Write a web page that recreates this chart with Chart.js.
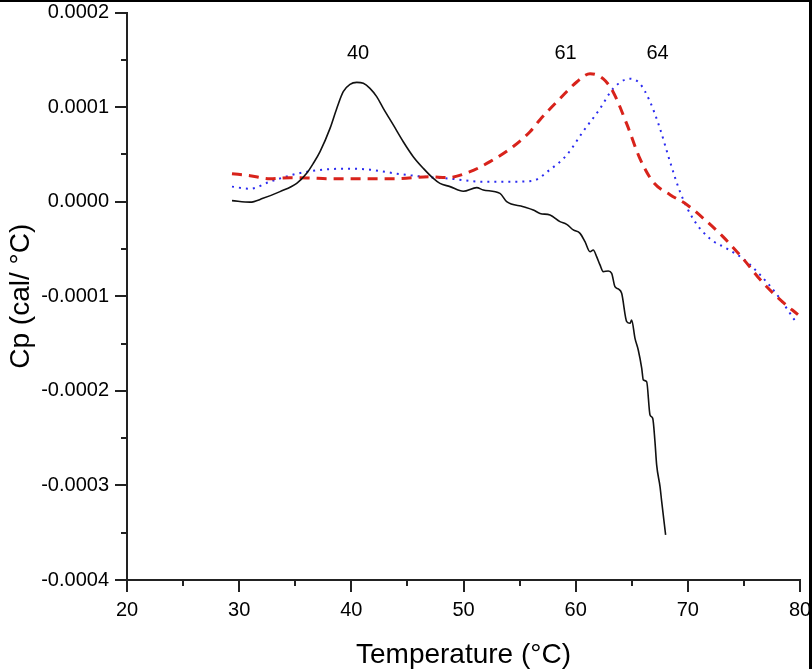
<!DOCTYPE html>
<html><head><meta charset="utf-8">
<script src="https://cdn.jsdelivr.net/npm/chart.js@4/dist/chart.umd.min.js"></script>
<style>
html,body{margin:0;padding:0;background:#fff;}
#wrap{position:absolute;left:0;top:0;width:812px;height:669px;box-sizing:border-box;border-top:2px solid #000;border-right:3px solid #000;background:#fff;}
canvas{display:block;}
</style></head><body>
<div id="wrap"><canvas id="c" width="809" height="667"></canvas></div>
<script>
// ---- data (Temperature in °C, Cp in cal/°C) ----
const blackT = [29.36,30.97,32.12,33.64,35.13,36.02,36.61,37.21,38.10,38.70,39.28,39.88,40.48,41.07,41.66,42.26,42.85,43.74,44.63,45.52,46.42,47.31,47.90,48.80,49.98,51.18,51.76,53.25,53.85,55.33,56.22,56.82,57.71,58.60,59.20,59.79,60.39,60.83,61.28,61.57,61.87,62.17,62.46,62.91,63.21,63.50,63.80,64.10,64.55,64.84,64.99,65.29,65.58,65.89,66.03,66.33,66.63,66.87,67.07,67.22,67.52,67.67,68.02];
const blackCp = [0.011e-4,-0.005e-4,0.035e-4,0.106e-4,0.193e-4,0.300e-4,0.405e-4,0.530e-4,0.775e-4,0.986e-4,1.163e-4,1.240e-4,1.261e-4,1.251e-4,1.198e-4,1.110e-4,0.986e-4,0.811e-4,0.634e-4,0.476e-4,0.352e-4,0.246e-4,0.193e-4,0.159e-4,0.110e-4,0.148e-4,0.124e-4,0.088e-4,0.000e-4,-0.053e-4,-0.088e-4,-0.124e-4,-0.141e-4,-0.211e-4,-0.240e-4,-0.299e-4,-0.335e-4,-0.423e-4,-0.529e-4,-0.511e-4,-0.581e-4,-0.669e-4,-0.740e-4,-0.733e-4,-0.758e-4,-0.899e-4,-0.923e-4,-0.969e-4,-1.268e-4,-1.286e-4,-1.251e-4,-1.445e-4,-1.568e-4,-1.762e-4,-1.885e-4,-1.903e-4,-2.255e-4,-2.291e-4,-2.537e-4,-2.783e-4,-3.013e-4,-3.171e-4,-3.523e-4];

const redT = [29.36,30.97,32.75,34.53,36.30,38.10,41.04,44.07,47.01,48.53,50.58,52.36,54.41,55.93,56.82,58.60,60.12,61.28,62.44,63.33,64.58,65.73,66.89,68.41,69.92,71.71,73.13,74.92,76.61,78.22,79.82];
const redCp = [0.296e-4,0.275e-4,0.243e-4,0.254e-4,0.250e-4,0.243e-4,0.243e-4,0.243e-4,0.264e-4,0.254e-4,0.317e-4,0.423e-4,0.581e-4,0.740e-4,0.867e-4,1.089e-4,1.268e-4,1.353e-4,1.300e-4,1.163e-4,0.814e-4,0.455e-4,0.211e-4,0.074e-4,-0.032e-4,-0.211e-4,-0.370e-4,-0.603e-4,-0.846e-4,-1.036e-4,-1.195e-4];

const blueT = [29.36,30.97,32.75,35.16,37.47,39.61,41.66,44.07,46.39,48.80,51.74,54.41,56.20,57.71,59.23,60.65,62.17,63.33,64.84,65.73,66.63,67.52,68.41,69.30,70.46,71.97,73.49,74.92,76.43,77.95,79.73];
const blueCp = [0.159e-4,0.137e-4,0.211e-4,0.296e-4,0.338e-4,0.349e-4,0.338e-4,0.296e-4,0.264e-4,0.243e-4,0.211e-4,0.211e-4,0.222e-4,0.338e-4,0.497e-4,0.740e-4,0.983e-4,1.195e-4,1.300e-4,1.247e-4,1.057e-4,0.772e-4,0.423e-4,0.106e-4,-0.180e-4,-0.391e-4,-0.497e-4,-0.603e-4,-0.772e-4,-0.983e-4,-1.290e-4];

const peakLabels = ['40','61','64'];
const peakLabelT = [40.6, 59.1, 67.3];
const peakLabelCp = [1.57e-4, 1.57e-4, 1.57e-4];

const xRange = [20, 80], xStep = 10;
const yRange = [-0.0004, 0.0002], yStep = 0.0001;
const xTitle = 'Temperature (°C)';
const yTitle = 'Cp (cal/ °C)';

const pts = (xs, ys) => xs.map((v, i) => ({x: v, y: ys[i]}));
const FONT = '"Liberation Sans", Arial, sans-serif';
const AXIS = '#222';

const extras = {
  id: 'extras',
  afterDraw(chart) {
    const {ctx, chartArea: ca, scales: {x, y}} = chart;
    ctx.save();
    ctx.strokeStyle = AXIS; ctx.lineWidth = 2;
    const xt = x.ticks.map(t => t.value);
    for (let i = 0; i < xt.length - 1; i++) {
      const px = Math.round(x.getPixelForValue((xt[i] + xt[i + 1]) / 2));
      ctx.beginPath(); ctx.moveTo(px, ca.bottom); ctx.lineTo(px, ca.bottom + 6); ctx.stroke();
    }
    const yt = y.ticks.map(t => t.value);
    for (let i = 0; i < yt.length - 1; i++) {
      const py = Math.round(y.getPixelForValue((yt[i] + yt[i + 1]) / 2));
      ctx.beginPath(); ctx.moveTo(ca.left - 6, py); ctx.lineTo(ca.left, py); ctx.stroke();
    }
    ctx.fillStyle = '#000';
    ctx.font = '20px ' + FONT;
    ctx.textAlign = 'center'; ctx.textBaseline = 'middle';
    peakLabels.forEach((t, i) => ctx.fillText(t, x.getPixelForValue(peakLabelT[i]), y.getPixelForValue(peakLabelCp[i])));
    ctx.restore();
  }
};

new Chart(document.getElementById('c'), {
  type: 'scatter',
  data: {
    datasets: [
      {data: pts(blackT, blackCp), showLine: true, borderColor: '#111', borderWidth: 1.6, pointRadius: 0, cubicInterpolationMode: 'monotone'},
      {data: pts(redT, redCp), showLine: true, borderColor: '#d8231b', borderWidth: 3, borderDash: [10, 7], pointRadius: 0, cubicInterpolationMode: 'monotone'},
      {data: pts(blueT, blueCp), showLine: true, borderColor: '#2b2bf0', borderWidth: 2, borderDash: [2, 5], pointRadius: 0, cubicInterpolationMode: 'monotone'}
    ]
  },
  options: {
    responsive: false, animation: false, devicePixelRatio: 1,
    layout: {padding: {top: 10.5, right: 9, left: 0, bottom: 0}},
    plugins: {legend: {display: false}, tooltip: {enabled: false}},
    scales: {
      x: {
        type: 'linear', min: xRange[0], max: xRange[1],
        ticks: {stepSize: xStep, color: '#000', font: {size: 20, family: FONT}, padding: 6, maxRotation: 0},
        grid: {drawOnChartArea: false, drawTicks: true, tickLength: 12, color: AXIS, lineWidth: 2},
        border: {display: true, color: AXIS, width: 2},
        title: {display: true, text: xTitle, color: '#000', font: {size: 28, family: FONT, lineHeight: 1.0}, padding: {top: 0, bottom: 0}},
        afterFit(s) { s.height = 89; s.paddingLeft = 0; s.paddingRight = 0; }
      },
      y: {
        type: 'linear', min: yRange[0], max: yRange[1],
        ticks: {stepSize: yStep, color: '#000', font: {size: 20, family: FONT}, padding: 6,
          callback: v => Math.abs(v) < 1e-12 ? '0.0000' : Number(v).toFixed(4)},
        grid: {drawOnChartArea: false, drawTicks: true, tickLength: 12, color: AXIS, lineWidth: 2},
        border: {display: true, color: AXIS, width: 2},
        title: {display: true, text: yTitle, color: '#000', font: {size: 28, family: FONT}, padding: {top: 4, bottom: 0}},
        afterFit(s) { s.width = 127; s.paddingTop = 0; s.paddingBottom = 0; }
      }
    }
  },
  plugins: [extras]
});
</script>
</body></html>
